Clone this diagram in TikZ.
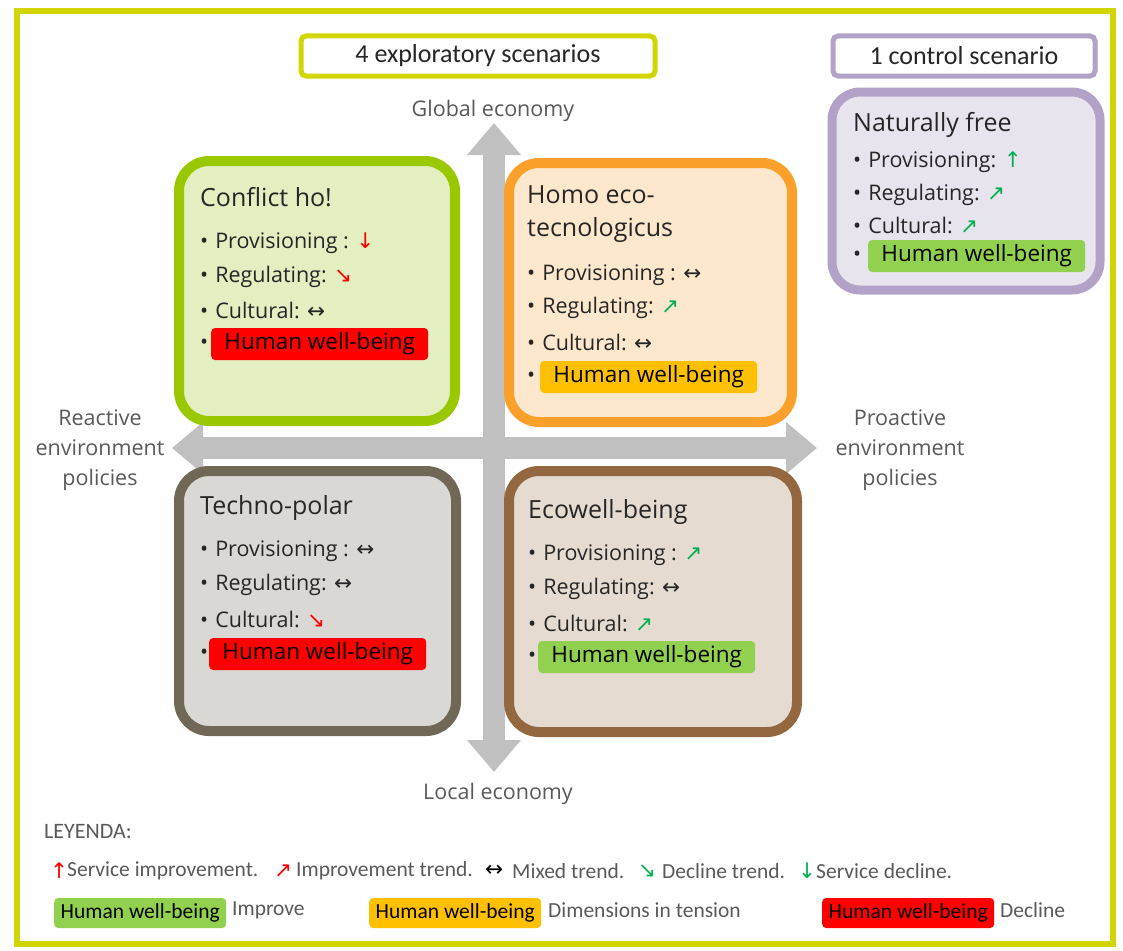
\documentclass[tikz,border=0pt]{standalone}
\usepackage{fontspec}
\setmainfont{Open Sans}
\newfontfamily\legendfont{Carlito}
\newfontfamily\arrowfont{DejaVu Sans}
\usetikzlibrary{arrows.meta}

\definecolor{frameyellow}{HTML}{D2D600}
\definecolor{lavender}{HTML}{B3A2C7}
\definecolor{lavenderfill}{HTML}{E8E4EE}
\definecolor{conflictline}{HTML}{99C800}
\definecolor{conflictfill}{HTML}{E3EEC1}
\definecolor{homoline}{HTML}{FCA02C}
\definecolor{homofill}{HTML}{FDE8CE}
\definecolor{technoline}{HTML}{716757}
\definecolor{technofill}{HTML}{DAD8D4}
\definecolor{ecoline}{HTML}{93673F}
\definecolor{ecofill}{HTML}{E5DBD1}
\definecolor{axisgray}{HTML}{C0C0C0}
\definecolor{labelgray}{HTML}{595959}
\definecolor{textdark}{HTML}{262626}
\definecolor{hwbgreen}{HTML}{92D050}
\definecolor{hwborange}{HTML}{FFC000}
\definecolor{hwbred}{HTML}{FF0000}
\definecolor{trendgreen}{HTML}{00B050}

\newcommand{\trendmark}[2]{{\arrowfont\textcolor{#1}{#2}}}

\begin{document}
\begin{tikzpicture}[x=1pt,y=-1pt,
	every node/.style={inner sep=0pt, text=textdark},
	title/.style={anchor=west, font=\fontsize{25}{33}\selectfont},
	item/.style={anchor=west, font=\fontsize{21.5}{24}\selectfont},
	hwb/.style={anchor=west, rounded corners=4pt, minimum width=217pt, minimum height=32pt, font=\fontsize{22.5}{24}\selectfont, text=black},
	scenario/.style={line width=10pt, rounded corners=30pt},
	headbox/.style={draw, line width=5pt, rounded corners=5pt, fill=white, font=\legendfont\fontsize{26}{28}\selectfont, text=textdark, minimum height=40pt},
	axislabel/.style={align=center, text=labelgray, font=\fontsize{21.5}{30}\selectfont},
	legend/.style={anchor=west, text=labelgray, font=\legendfont\fontsize{21.5}{24}\selectfont},
	legendbox/.style={anchor=west, rounded corners=4pt, minimum width=172pt, minimum height=30pt, text=black, font=\legendfont\fontsize{21.5}{24}\selectfont}]
	\useasboundingbox (0,0) rectangle (1123,950);
	
	% Frame
	\draw[frameyellow, line width=6pt] (17,11) rectangle (1113,944);
	
	% Headers
	\node[headbox, draw=frameyellow, minimum width=354pt] (explo) at (478,56) {4 exploratory scenarios};
	\node[headbox, draw=lavender, minimum width=262pt] (ctrl) at (964,56) {1 control scenario};
	
	% Axes
	\coordinate (gtop) at (494,123);
	\coordinate (gbot) at (494,772);
	\coordinate (plft) at (172,448);
	\coordinate (prgt) at (817,448);
	\draw[axisgray, line width=22pt, {Triangle[width=52pt,length=32pt]}-{Triangle[width=52pt,length=32pt]}] (gbot) -- (gtop);
	\draw[axisgray, line width=22pt, {Triangle[width=50pt,length=31pt]}-{Triangle[width=50pt,length=31pt]}] (plft) -- (prgt);
	\node[axislabel] (global) at (493,111) {Global economy};
	\node[axislabel] (local) at (498,794) {Local economy};
	\node[axislabel] (reactive) at (100,450) {Reactive\\environment\\policies};
	\node[axislabel] (proactive) at (900,450) {Proactive\\environment\\policies};
	
	% Conflict ho!
	\draw[scenario, draw=conflictline, fill=conflictfill] (179,161) rectangle (455,421);
	\node[title] (c0) at (200,197) {Conflict ho!};
	\node[item] (c1) at (200,243) {•\hspace{7pt}Provisioning : \trendmark{red}{↓}};
	\node[item] (c2) at (200,277) {•\hspace{7pt}Regulating: \trendmark{red}{↘}};
	\node[item] (c3) at (200,310) {•\hspace{7pt}Cultural: \trendmark{textdark}{↔}};
	\node[item] (c4) at (200,344) {•};
	\node[hwb, fill=hwbred] (c5) at (211,344) {Human well-being};
	
	% Homo eco-tecnologicus
	\draw[scenario, draw=homoline, fill=homofill] (509,163) rectangle (792,422);
	\node[title, align=left] (h0) at (527,214) {Homo eco-\\tecnologicus};
	\node[item] (h1) at (527,275) {•\hspace{7pt}Provisioning : \trendmark{textdark}{↔}};
	\node[item] (h2) at (527,308) {•\hspace{7pt}Regulating: \trendmark{trendgreen}{↗}};
	\node[item] (h3) at (527,342) {•\hspace{7pt}Cultural: \trendmark{textdark}{↔}};
	\node[item] (h4) at (527,377) {•};
	\node[hwb, fill=hwborange] (h5) at (540,377) {Human well-being};
	
	% Techno-polar
	\draw[scenario, draw=technoline, fill=technofill] (179,471) rectangle (456,731);
	\node[title] (t0) at (200,508) {Techno-polar};
	\node[item] (t1) at (200,551) {•\hspace{7pt}Provisioning : \trendmark{textdark}{↔}};
	\node[item] (t2) at (200,585) {•\hspace{7pt}Regulating: \trendmark{textdark}{↔}};
	\node[item] (t3) at (200,619) {•\hspace{7pt}Cultural: \trendmark{red}{↘}};
	\node[item] (t4) at (200,654) {•};
	\node[hwb, fill=hwbred] (t5) at (209,654) {Human well-being};
	
	% Ecowell-being
	\draw[scenario, draw=ecoline, fill=ecofill] (509,471) rectangle (797,732);
	\node[title] (e0) at (528,512) {Ecowell-being};
	\node[item] (e1) at (528,555) {•\hspace{7pt}Provisioning : \trendmark{trendgreen}{↗}};
	\node[item] (e2) at (528,589) {•\hspace{7pt}Regulating: \trendmark{textdark}{↔}};
	\node[item] (e3) at (528,623) {•\hspace{7pt}Cultural: \trendmark{trendgreen}{↗}};
	\node[item] (e4) at (528,657) {•};
	\node[hwb, fill=hwbgreen] (e5) at (538,657) {Human well-being};
	
	% Naturally free
	\draw[scenario, line width=9pt, rounded corners=28pt, draw=lavender, fill=lavenderfill] (832,92) rectangle (1100,290);
	\node[title] (n0) at (853,125) {Naturally free};
	\node[item] (n1) at (853,162) {•\hspace{7pt}Provisioning: \trendmark{trendgreen}{↑}};
	\node[item] (n2) at (853,195) {•\hspace{7pt}Regulating: \trendmark{trendgreen}{↗}};
	\node[item] (n3) at (853,225) {•\hspace{7pt}Cultural: \trendmark{trendgreen}{↗}};
	\node[item] (n4) at (853,256) {•};
	\node[hwb, fill=hwbgreen] (n5) at (868,256) {Human well-being};
	
	% Legend
	\node[legend, font=\legendfont\fontsize{22}{24}\selectfont] (leyenda) at (44,832) {LEYENDA:};
	\node[legend] (l1) at (50,871) {\trendmark{red}{↑}};
	\node[legend] (l2) at (67,871) {Service improvement.};
	\node[legend] (l3) at (274,871) {\trendmark{red}{↗}};
	\node[legend] (l4) at (296,871) {Improvement trend.};
	\node[legend] (l5) at (485,871) {\trendmark{black}{↔}};
	\node[legend] (l6) at (512,871) {Mixed trend.};
	\node[legend] (l7) at (638,871) {\trendmark{trendgreen}{↘}};
	\node[legend] (l8) at (662,871) {Decline trend.};
	\node[legend] (l9) at (798,871) {\trendmark{trendgreen}{↓}};
	\node[legend] (l10) at (816,871) {Service decline.};
	\node[legendbox, fill=hwbgreen] (b1) at (54,913) {Human well-being};
	\node[legend] (b1t) at (232,910) {Improve};
	\node[legendbox, fill=hwborange] (b2) at (369,913) {Human well-being};
	\node[legend] (b2t) at (548,910) {Dimensions in tension};
	\node[legendbox, fill=hwbred] (b3) at (822,913) {Human well-being};
	\node[legend] (b3t) at (1000,910) {Decline};
\end{tikzpicture}
\end{document}
